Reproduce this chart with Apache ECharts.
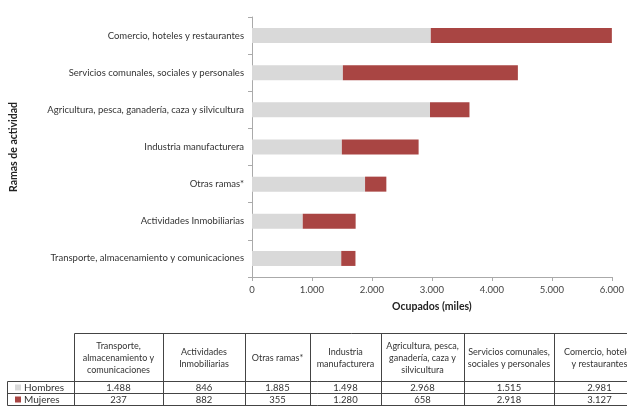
<!DOCTYPE html>
<html><head><meta charset="utf-8">
<script src="https://cdn.jsdelivr.net/npm/echarts@6/dist/echarts.min.js"></script>
<style>html,body{margin:0;padding:0;background:#fff}#c{width:627px;height:406px}</style>
</head><body><div id="c"></div>
<script>
var categories = ["Transporte, almacenamiento y comunicaciones","Actividades Inmobiliarias","Otras ramas*","Industria manufacturera","Agricultura, pesca, ganadería, caza y silvicultura","Servicios comunales, sociales y personales","Comercio, hoteles y restaurantes"];
var tableHeaders = ["Transporte,\nalmacenamiento y\ncomunicaciones","Actividades\nInmobiliarias","Otras ramas*","Industria\nmanufacturera","Agricultura, pesca,\nganadería, caza y\nsilvicultura","Servicios comunales,\nsociales y personales","Comercio, hoteles\ny restaurantes"];
var hombres = [1488, 846, 1885, 1498, 2968, 1515, 2981];
var mujeres = [237, 882, 355, 1280, 658, 2918, 3127];
var seriesNames = ["Hombres", "Mujeres"];
var xTicks = [0, 1000, 2000, 3000, 4000, 5000, 6000];

var FONT = "Lato";
var GRAY = "#d9d9d9", RED = "#a94543";
function fmt(v){ return String(v).replace(/\B(?=(\d{3})+(?!\d))/g, "."); }

var chart = echarts.init(document.getElementById('c'), null, {renderer:'canvas'});

// table layout
var colX = [74,163,245,310,381,464,554,645];
var legX0 = 7;
var hTop = 333, hBot = 381, r1 = 393, r2 = 405;
var lineC = "#444";
var g = [];
function line(x1,y1,x2,y2){ g.push({type:'line', shape:{x1:x1,y1:y1,x2:x2,y2:y2}, style:{stroke:lineC, lineWidth:1}, silent:true}); }
// horizontal lines
line(colX[0]+0.5, hTop+0.5, colX[colX.length-1], hTop+0.5);
line(legX0+0.5, hBot+0.5, colX[colX.length-1], hBot+0.5);
line(legX0+0.5, r1+0.5, colX[colX.length-1], r1+0.5);
line(legX0+0.5, r2+0.5, colX[colX.length-1], r2+0.5);
// vertical lines
line(legX0+0.5, hBot+0.5, legX0+0.5, r2+0.5);
for (var i=0;i<colX.length;i++){ line(colX[i]+0.5, hTop+0.5, colX[i]+0.5, r2+0.5); }
var rows = [hombres, mujeres];
var rowY = [(hBot+r1)/2+0.5, (r1+r2)/2+0.5];
var cols = [GRAY, RED];
for (var c=0;c<tableHeaders.length;c++){
  var cx = (colX[c]+colX[c+1])/2;
  g.push({type:'text', x:cx, y:(hTop+hBot)/2+1, style:{text:tableHeaders[c], font:'9px '+FONT, fill:'#333', align:'center', verticalAlign:'middle', lineHeight:12}, silent:true});
  for (var r=0;r<2;r++){
    g.push({type:'text', x:cx, y:rowY[r], style:{text:fmt(rows[r][c]), font:'9.5px '+FONT, fill:'#333', align:'center', verticalAlign:'middle'}, silent:true});
  }
}
for (var r=0;r<2;r++){
  g.push({type:'rect', shape:{x:15, y:rowY[r]-3, width:6, height:6}, style:{fill:cols[r]}, silent:true});
  g.push({type:'text', x:24, y:rowY[r], style:{text:seriesNames[r], font:'10px '+FONT, fill:'#333', align:'left', verticalAlign:'middle'}, silent:true});
}

chart.setOption({
  animation:false,
  textStyle:{fontFamily:FONT},
  grid:{left:249, right:12, top:17, bottom:129, containLabel:false},
  xAxis:{
    type:'value', min:0, max:6000, interval:1000,
    name:'Ocupados (miles)', nameLocation:'middle', nameGap:24,
    nameTextStyle:{fontFamily:FONT, fontSize:10.5, fontWeight:'bold', color:'#222'},
    axisLine:{show:true, lineStyle:{color:'#aaa'}},
    axisTick:{show:true, length:4, lineStyle:{color:'#aaa'}},
    axisLabel:{fontFamily:FONT, fontSize:9.5, color:'#444', margin:8, formatter:function(v){return fmt(v);}},
    splitLine:{show:false}
  },
  yAxis:{
    type:'category', data:categories,
    name:'Ramas de actividad', nameLocation:'middle', nameGap:233, nameRotate:90,
    nameTextStyle:{fontFamily:FONT, fontSize:10.5, fontWeight:'bold', color:'#222'},
    axisLine:{show:true, lineStyle:{color:'#aaa'}},
    axisTick:{show:true, length:4, lineStyle:{color:'#aaa'}},
    axisLabel:{fontFamily:FONT, fontSize:9.5, color:'#333', margin:8}
  },
  series:[
    {name:seriesNames[0], type:'bar', stack:'t', data:hombres, barWidth:15, itemStyle:{color:GRAY}},
    {name:seriesNames[1], type:'bar', stack:'t', data:mujeres, barWidth:15, itemStyle:{color:RED}}
  ],
  graphic:g
});
</script></body></html>
